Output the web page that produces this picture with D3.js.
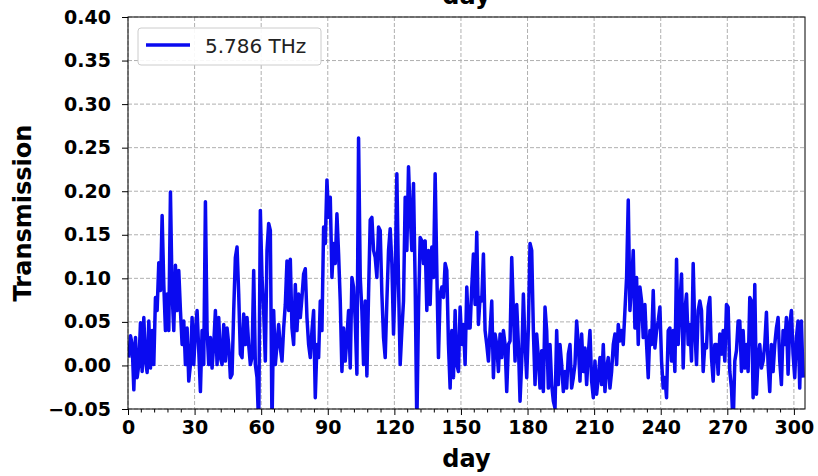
<!DOCTYPE html>
<html>
<head>
<meta charset="utf-8">
<script src="https://cdn.jsdelivr.net/npm/d3@7"></script>
<style>
  body { margin: 0; background: #fff; }
  text { font-family: 'DejaVu Sans', sans-serif; }
</style>
</head>
<body>
<div id="chart"></div>
<script>
'use strict';

// series: transmission at 5.786 THz, one reading every 0.75 day starting at day 0.375
const seriesLabel = '5.786 THz'
const firstDay = 0.375
const sampleStep = 0.75

const trans_a = [0.009,0.034,0.024,-0.028,0.032,-0.014,0.001,0.049,-0.007,0.055,0.005,-0.008,0.051,-0.003,0.040,0.001,0.078,0.063,0.118,0.086,0.172,0.093,0.040,0.082,0.040,0.199,0.082,0.040,0.115,0.063,0.109,0.063,0.024,0.051,0.001,0.043,-0.018,0.001,0.055,0.001,0.040,0.063,0.017,-0.030,0.040,0.001,0.188,0.040,0.001,0.032,-0.003,0.024,0.063,0.001,0.055,0.009,0.001,0.047,0.005,0.043,0.024,-0.014,-0.010,0.063,0.124,0.136,0.082]
const trans_b = [0.013,0.009,0.059,0.024,0.055,0.024,0.001,0.009,0.109,0.001,-0.014,-0.07,0.178,0.101,0.063,0.005,0.132,0.163,0.155,-0.07,0.063,0.001,0.024,0.047,0.020,0.005,0.043,0.070,0.120,0.063,0.122,0.043,0.024,0.093,0.040,0.082,0.055,0.078,0.105,0.111,0.055,0.024,0.009,0.040,0.063,-0.037,0.024,0.009,0.074,0.040,0.159,0.140,0.213,0.170,0.193,0.101,0.140,0.117,0.174,0.128,0.074,-0.007,0.043,0.005,0.032,0.063,-0.003,0.101,0.090]
const trans_c = [0.051,-0.010,0.261,0.101,0.063,0.001,0.074,-0.012,0.082,0.167,0.170,0.132,0.124,0.101,0.159,0.155,0.082,0.032,0.009,0.074,0.132,0.157,0.117,0.036,0.101,0.220,0.093,0.001,0.040,0.074,0.193,0.132,0.228,0.174,0.132,0.209,0.093,-0.07,0.063,0.147,0.143,0.117,0.143,0.063,0.132,0.070,0.136,0.101,0.220,0.109,0.009,0.082,0.090,0.078,0.117,0.109,0.024,-0.026,0.040,-0.014,0.063,0.001,-0.007,0.067,0.024,0.047,0.001,0.090,0.043]
const trans_d = [0.043,0.090,0.128,0.070,0.153,0.047,0.078,0.074,0.128,0.040,0.024,0.005,0.040,0.074,-0.014,0.036,0.024,-0.007,0.036,0.009,0.040,0.024,-0.030,0.024,0.028,0.124,0.063,0.005,0.070,0.024,-0.041,0.005,0.082,0.024,-0.014,0.043,0.140,0.132,0.040,-0.022,0.036,0.009,-0.026,0.017,-0.030,0.067,0.040,-0.026,0.024,-0.022,-0.041,-0.049,0.040,-0.022,0.024,0.001,-0.030,-0.007,-0.026,0.013,0.024,-0.026,-0.014,0.001,0.051,0.024,-0.018,0.036,-0.007]
const trans_e = [0.020,-0.022,0.013,0.040,-0.018,-0.037,0.005,-0.033,-0.014,0.009,-0.022,0.024,-0.030,-0.003,0.009,-0.026,-0.007,0.024,0.036,0.001,0.047,0.028,0.040,0.024,0.063,0.101,0.190,0.063,0.093,0.132,0.043,0.101,0.024,0.090,0.074,0.032,0.070,0.024,-0.014,0.040,0.024,0.086,0.020,0.040,0.051,0.067,0.005,-0.026,-0.014,-0.037,0.040,0.043,0.005,0.040,-0.007,0.122,0.024,0.070,0.105,-0.003,0.063,0.082,0.024,0.047,0.005,0.117,0.040,0.001,0.063]
const trans_f = [0.074,0.063,-0.007,0.024,0.020,0.067,0.078,0.009,-0.018,0.024,0.024,-0.010,0.036,0.013,0.040,0.005,0.070,0.067,-0.007,-0.026,-0.07,0.005,0.017,0.051,0.051,-0.007,0.040,-0.003,0.024,-0.007,0.078,0.074,-0.037,0.093,-0.033,0.009,0.024,-0.003,0.005,0.024,0.061,0.001,-0.030,0.024,-0.007,0.024,0.043,0.055,0.005,-0.022,0.040,0.024,0.055,-0.010,0.047,0.063,0.013,-0.014,0.032,0.051,-0.026,0.051,-0.014]

const xTicks = [0, 30, 60, 90, 120, 150, 180, 210, 240, 270, 300]
const yTicks = [-0.05, 0, 0.05, 0.10, 0.15, 0.20, 0.25, 0.30, 0.35, 0.40]

const trans = [].concat(trans_a, trans_b, trans_c, trans_d, trans_e, trans_f)
const data = trans.map((v, i) => ({ day: firstDay + i * sampleStep, value: v }))

// dimensions
let dimensions = {
  width: 818,
  height: 476,
  margin: { top: 17, bottom: 67, left: 128, right: 13 }
}
dimensions.ctrWidth = dimensions.width - dimensions.margin.left - dimensions.margin.right
dimensions.ctrHeight = dimensions.height - dimensions.margin.top - dimensions.margin.bottom

const svg = d3.select('#chart')
  .append('svg')
  .attr('width', dimensions.width)
  .attr('height', dimensions.height)

const chart_g = svg.append('g')
  .attr('transform', `translate(${dimensions.margin.left}, ${dimensions.margin.top})`)

const xScale = d3.scaleLinear().domain([0, 305]).range([0, dimensions.ctrWidth])
const yScale = d3.scaleLinear().domain([-0.05, 0.40]).range([dimensions.ctrHeight, 0])

// grid
const grid = chart_g.append('g')
  .attr('stroke', '#b0b0b0')
  .attr('stroke-width', 1)
  .attr('stroke-dasharray', '4,2')
grid.selectAll('.vg')
  .data(xTicks)
  .join('line')
  .attr('x1', d => xScale(d)).attr('x2', d => xScale(d))
  .attr('y1', 0).attr('y2', dimensions.ctrHeight)
grid.selectAll('.hg')
  .data(yTicks)
  .join('line')
  .attr('y1', d => yScale(d)).attr('y2', d => yScale(d))
  .attr('x1', 0).attr('x2', dimensions.ctrWidth)

// clip for the line
svg.append('defs').append('clipPath').attr('id', 'plotclip')
  .append('rect')
  .attr('width', dimensions.ctrWidth)
  .attr('height', dimensions.ctrHeight)

const line = d3.line()
  .x(d => xScale(d.day))
  .y(d => yScale(d.value))

chart_g.append('path')
  .datum(data)
  .attr('clip-path', 'url(#plotclip)')
  .attr('fill', 'none')
  .attr('stroke', '#0a0af0')
  .attr('stroke-width', 3.5)
  .attr('stroke-linejoin', 'round')
  .attr('d', line)

// axes
const xAxis = chart_g.append('g')
  .attr('transform', `translate(0, ${dimensions.ctrHeight})`)
  .call(d3.axisBottom(xScale).tickValues(xTicks).tickSize(6).tickPadding(6).tickFormat(d3.format('d')))
xAxis.append('g')
  .selectAll('line')
  .data(d3.range(0, 305, 6).filter(d => d % 30 !== 0))
  .join('line')
  .attr('x1', d => xScale(d)).attr('x2', d => xScale(d))
  .attr('y1', 0).attr('y2', 3.5)
  .attr('stroke', 'black')

const yAxis = chart_g.append('g')
  .call(d3.axisLeft(yScale).tickValues(yTicks).tickSize(6).tickPadding(11)
    .tickFormat(d => d3.format('.2f')(d).replace('-', '\u2212')))

;[xAxis, yAxis].forEach(ax => {
  ax.select('.domain').remove()
  ax.selectAll('.tick line').attr('stroke', 'black')
  ax.selectAll('.tick text')
    .attr('fill', 'black')
    .style('font-family', 'DejaVu Sans')
    .style('font-size', '19px')
    .style('font-weight', 'bold')
})

// frame
chart_g.append('rect')
  .attr('width', dimensions.ctrWidth)
  .attr('height', dimensions.ctrHeight)
  .attr('fill', 'none')
  .attr('stroke', 'black')
  .attr('stroke-width', 1)

// axis labels
svg.append('text')
  .attr('x', dimensions.margin.left + dimensions.ctrWidth / 2)
  .attr('y', 467)
  .attr('text-anchor', 'middle')
  .style('font-size', '24px')
  .style('font-weight', 'bold')
  .text('day')

// title sits above the top edge, only its lower part shows (as in the source)
svg.append('text')
  .attr('x', dimensions.margin.left + dimensions.ctrWidth / 2)
  .attr('y', 4)
  .attr('text-anchor', 'middle')
  .style('font-size', '24px')
  .style('font-weight', 'bold')
  .text('day')

svg.append('text')
  .attr('transform', `translate(31, ${dimensions.margin.top + dimensions.ctrHeight / 2}) rotate(-90)`)
  .attr('text-anchor', 'middle')
  .style('font-size', '24px')
  .style('font-weight', 'bold')
  .text('Transmission')

// legend
const legend = chart_g.append('g').attr('transform', 'translate(10, 11)')
legend.append('rect')
  .attr('width', 183).attr('height', 37)
  .attr('rx', 3)
  .attr('fill', 'white')
  .attr('fill-opacity', 0.9)
  .attr('stroke', '#cccccc')
legend.append('line')
  .attr('x1', 8).attr('x2', 52)
  .attr('y1', 17).attr('y2', 17)
  .attr('stroke', '#0a0af0')
  .attr('stroke-width', 3.5)
legend.append('text')
  .attr('x', 67).attr('y', 25)
  .attr('fill', '#222')
  .style('font-size', '20px')
  .text(seriesLabel)
</script>
</body>
</html>
